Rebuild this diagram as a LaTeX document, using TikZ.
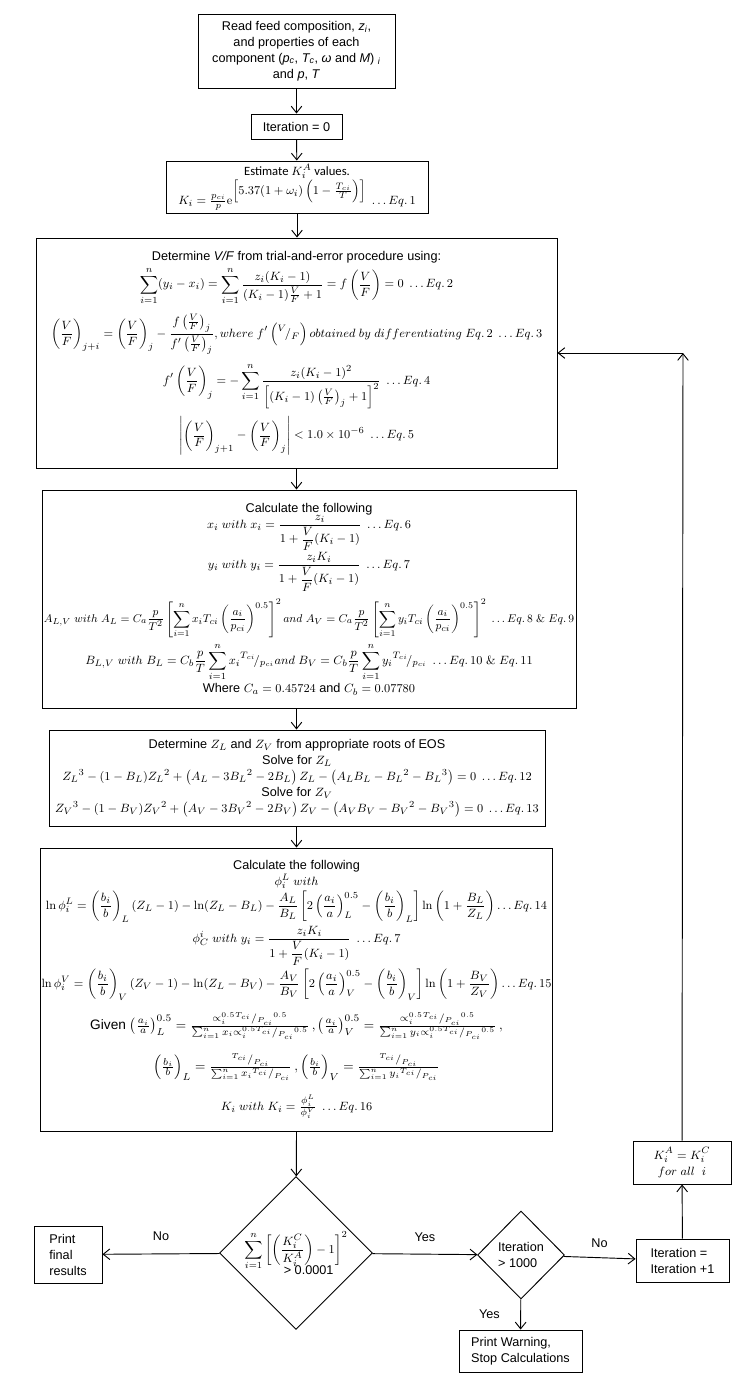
\documentclass[tikz,border=0pt]{standalone}
\usepackage{amsmath, amssymb, graphicx}
\usepackage[no-math]{fontspec}
\setmainfont{Liberation Sans}
\newfontfamily\calib{Carlito}
\usepackage{tikz}
\usetikzlibrary{arrows.meta, shapes.geometric}

\begin{document}
\begin{tikzpicture}[x=0.75pt, y=-0.75pt, line width=0.7pt,
  >={Straight Barb[length=5pt,width=8pt]},
  font=\fontsize{9.5}{12}\selectfont,
  box/.style={draw, rectangle, align=center, inner sep=1pt},
  lbox/.style={draw, rectangle, align=left, inner sep=1pt},
  dia/.style={draw, diamond, aspect=1, inner sep=0pt, align=center}]
  \useasboundingbox (0,0) rectangle (752,1400);
  % main column
  \node[box, minimum width=147.75pt, minimum height=55.5pt] (read) at (296.5,51)
    {Read feed composition, \textit{z\textsubscript{i}},\\ and properties of each\\
     component (\textit{p\textsubscript{c}}, \textit{T\textsubscript{c}}, \textit{ω} and \textit{M}) \textsubscript{\textit{i}}\\ and \textit{p}, \textit{T}};
  \node[box, minimum width=68.25pt, minimum height=18.75pt] (iter0) at (296.5,126.5) {Iteration = 0};
  \node[box, minimum width=196.5pt, minimum height=39pt] (est) at (297,187)
    {{\calib Estimate $K_i^A$ values.}\\
     $K_i=\frac{p_{ci}}{p}\mathrm{e}^{\textstyle\left[5.37(1+\omega_i)\left(1-\frac{T_{ci}}{T}\right)\right]}\ \ldots Eq.\,1$};
  \node[box, minimum width=390.75pt, minimum height=172.5pt] (vf) at (296.5,353)
    {Determine \textit{V/F} from trial-and-error procedure using:\\[2pt]
     $\displaystyle\sum_{i=1}^{n}(y_i-x_i)=\sum_{i=1}^{n}\frac{z_i(K_i-1)}{(K_i-1)\frac{V}{F}+1}=f\left(\frac{V}{F}\right)=0\ \ldots Eq.\,2$\\[6pt]
     $\displaystyle\left(\frac{V}{F}\right)_{j+i}=\left(\frac{V}{F}\right)_j-\frac{f\left(\frac{V}{F}\right)_j}{f'\left(\frac{V}{F}\right)_j},where\ f'\left({}^{V}\!/_{F}\right)obtained\ by\ differentiating\ Eq.\,2\ \ldots Eq.\,3$\\[6pt]
     $\displaystyle f'\left(\frac{V}{F}\right)_j=-\sum_{i=1}^{n}\frac{z_i(K_i-1)^2}{\left[(K_i-1)\left(\frac{V}{F}\right)_j+1\right]^2}\ \ldots Eq.\,4$\\[5pt]
     $\displaystyle\left|\left(\frac{V}{F}\right)_{j+1}-\left(\frac{V}{F}\right)_j\right|<1.0\times10^{-6}\ \ldots Eq.\,5$};
  \node[box, minimum width=400.5pt, minimum height=163.5pt] (calc1) at (309,599)
    {Calculate the following\\
     $x_i\ with\ x_i=\dfrac{z_i}{1+\dfrac{V}{F}(K_i-1)}\ \ldots Eq.\,6$\\
     $y_i\ with\ y_i=\dfrac{z_iK_i}{1+\dfrac{V}{F}(K_i-1)}\ \ldots Eq.\,7$\\[5pt]
     \scalebox{0.94}{$\displaystyle A_{L,V}\ with\ A_L=C_a\frac{p}{T^2}\left[\sum_{i=1}^n x_iT_{ci}\left(\frac{a_i}{p_{ci}}\right)^{0.5}\right]^2 and\ A_V=C_a\frac{p}{T^2}\left[\sum_{i=1}^n y_iT_{ci}\left(\frac{a_i}{p_{ci}}\right)^{0.5}\right]^2\ \ldots Eq.\,8\ \&\ Eq.\,9$}\\[3pt]
     $\displaystyle B_{L,V}\ with\ B_L=C_b\frac{p}{T}\sum_{i=1}^n x_i{}^{T_{ci}}\!/_{p_{ci}}and\ B_V=C_b\frac{p}{T}\sum_{i=1}^n y_i{}^{T_{ci}}\!/_{p_{ci}}\ \ldots Eq.\,10\ \&\ Eq.\,11$\\[1pt]
     Where $C_a=0.45724$ and $C_b=0.07780$};
  \node[box, minimum width=372pt, minimum height=72pt] (eos) at (297,778)
    {Determine $Z_L$ and $Z_V$ from appropriate roots of EOS\\
     Solve for $Z_L$\\
     $Z_L{}^3-(1-B_L)Z_L{}^2+\left(A_L-3B_L{}^2-2B_L\right)Z_L-\left(A_LB_L-B_L{}^2-B_L{}^3\right)=0\ \ldots Eq.\,12$\\
     Solve for $Z_V$\\
     $Z_V{}^3-(1-B_V)Z_V{}^2+\left(A_V-3B_V{}^2-2B_V\right)Z_V-\left(A_VB_V-B_V{}^2-B_V{}^3\right)=0\ \ldots Eq.\,13$};
  \node[box, minimum width=381.75pt, minimum height=212.25pt] (calc2) at (296.5,989.5)
    {Calculate the following\\
     $\phi_i^L\ with$\\[1pt]
     $\ln\phi_i^L=\left(\dfrac{b_i}{b}\right)_L(Z_L-1)-\ln(Z_L-B_L)-\dfrac{A_L}{B_L}\left[2\left(\dfrac{a_i}{a}\right)_L^{0.5}-\left(\dfrac{b_i}{b}\right)_L\right]\ln\left(1+\dfrac{B_L}{Z_L}\right)\ldots Eq.\,14$\\[2pt]
     $\phi_C^i\ with\ y_i=\dfrac{z_iK_i}{1+\dfrac{V}{F}(K_i-1)}\ \ldots Eq.\,7$\\[2pt]
     $\ln\phi_i^V=\left(\dfrac{b_i}{b}\right)_V(Z_V-1)-\ln(Z_L-B_V)-\dfrac{A_V}{B_V}\left[2\left(\dfrac{a_i}{a}\right)_V^{0.5}-\left(\dfrac{b_i}{b}\right)_V\right]\ln\left(1+\dfrac{B_V}{Z_V}\right)\ldots Eq.\,15$\\[8pt]
     \scalebox{1.08}{Given $\left(\frac{a_i}{a}\right)_L^{0.5}=\frac{\propto_i^{0.5}{}^{T_{ci}}/_{P_{ci}}{}^{0.5}}{\sum_{i=1}^n x_i\propto_i^{0.5}{}^{T_{ci}}/_{P_{ci}}{}^{0.5}}\,,\left(\frac{a_i}{a}\right)_V^{0.5}=\frac{\propto_i^{0.5}{}^{T_{ci}}/_{P_{ci}}{}^{0.5}}{\sum_{i=1}^n y_i\propto_i^{0.5}{}^{T_{ci}}/_{P_{ci}}{}^{0.5}}\,,$}\\[10pt]
     \scalebox{1.08}{$\left(\frac{b_i}{b}\right)_L=\frac{{}^{T_{ci}}/_{P_{ci}}}{\sum_{i=1}^n x_i{}^{T_{ci}}/_{P_{ci}}}\,,\left(\frac{b_i}{b}\right)_V=\frac{{}^{T_{ci}}/_{P_{ci}}}{\sum_{i=1}^n y_i{}^{T_{ci}}/_{P_{ci}}}$}\\[10pt]
     $K_i\ with\ K_i=\frac{\phi_i^L}{\phi_i^V}\ \ldots Eq.\,16$};
  % decisions
  \node[dia, minimum width=114.75pt, minimum height=114.75pt] (conv) at (296,1253)
    {$\displaystyle\sum_{i=1}^n\left[\left(\frac{K_i^C}{K_i^A}\right)-1\right]^2$\\[-4pt] \hspace*{2em}> 0.0001};
  \node[lbox, minimum width=51pt, minimum height=42.75pt, inner sep=4pt] (final) at (68,1254.5) {Print\\final\\results};
  \node[dia, minimum width=65.25pt, minimum height=66pt, align=left] (maxit) at (521,1255) {Iteration\\> 1000};
  \node[lbox, minimum width=69.75pt, minimum height=32.25pt, inner sep=4pt] (iter1) at (682.5,1260.5) {Iteration =\\Iteration +1};
  \node[box, minimum width=73.5pt, minimum height=32.25pt] (kbox) at (682,1162.5) {$K_i^A=K_i^C$\\$for\ all\ \ i$};
  \node[lbox, minimum width=92.25pt, minimum height=31.5pt, inner sep=4pt] (warn) at (520.5,1351) {Print Warning,\\Stop Calculations};
  \coordinate (corner) at (683,353);
  % connectors
  \draw[->] (read) -- (iter0);
  \draw[->] (iter0) -- (est);
  \draw[->] (est) -- (est.south |- vf.north);
  \draw[->] (vf) -- (vf.south |- calc1.north);
  \draw[->] (vf.south |- calc1.south) -- (vf.south |- eos.north);
  \draw[->] (vf.south |- eos.south) -- (vf.south |- calc2.north);
  \draw[->] (vf.south |- calc2.south) -- (conv);
  \draw[->] (conv) -- (final) node[midway, above=6pt] (lno) {No};
  \draw[->] (conv) -- (maxit) node[midway, above=6pt] (lyes) {Yes};
  \draw[->] (maxit) -- (iter1) node[midway, above=4pt] (lno2) {No};
  \draw[->] (maxit) -- (warn) node[midway, left=12pt] (lyes2) {Yes};
  \draw[->] (iter1) -- (kbox);
  \draw[->] (kbox) -- (corner);
  \draw[->] (corner) -- (vf.east);
\end{tikzpicture}
\end{document}
